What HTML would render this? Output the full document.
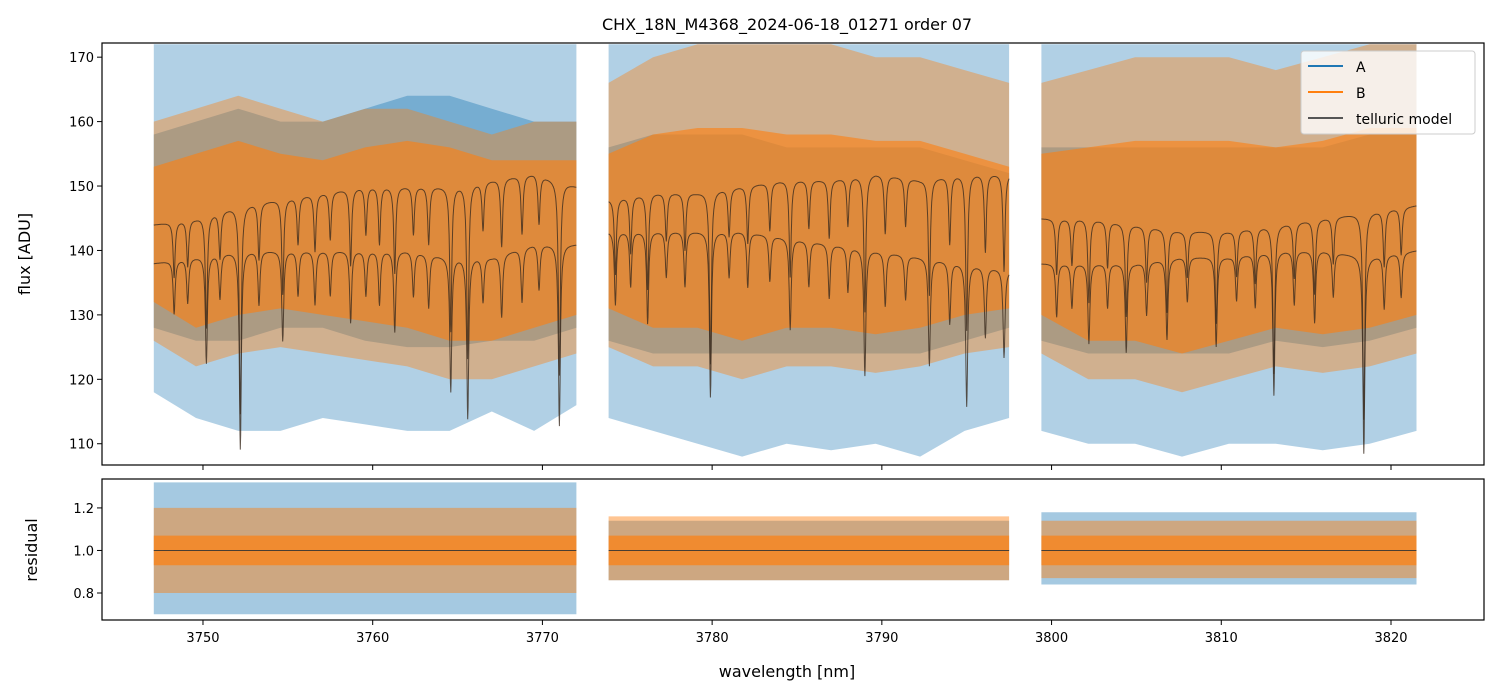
<!DOCTYPE html>
<html><head><meta charset="utf-8">
<style>
html,body{margin:0;padding:0;background:#fff;}
svg{display:block;font-family:"DejaVu Sans","Liberation Sans",sans-serif;}
</style></head>
<body>
<svg id="chart" width="1499" height="696" viewBox="0 0 1499 696">
<rect width="1499" height="696" fill="#fff"/>
<text x="787" y="30" font-size="16" text-anchor="middle">CHX_18N_M4368_2024-06-18_01271  order 07</text>
<defs>
<clipPath id="ctop"><rect x="102" y="43" width="1382" height="422"/></clipPath>
<clipPath id="cbot"><rect x="102" y="479" width="1382" height="141"/></clipPath>
</defs>
<g id="gtop" clip-path="url(#ctop)"></g>
<g id="gbot" clip-path="url(#cbot)"></g>
<g id="axes"></g>
<g>
<rect x="1301" y="51" width="174" height="83" rx="3" fill="#fff" fill-opacity="0.8" stroke="#ccc"/>
<line x1="1308" y1="66" x2="1343" y2="66" stroke="#1f77b4" stroke-width="2"/>
<text x="1356" y="72" font-size="14">A</text>
<line x1="1308" y1="92" x2="1343" y2="92" stroke="#ff7f0e" stroke-width="2"/>
<text x="1356" y="98" font-size="14">B</text>
<line x1="1308" y1="118" x2="1343" y2="118" stroke="#555" stroke-width="2"/>
<text x="1356" y="124" font-size="14">telluric model</text>
</g>
<text x="787" y="677" font-size="16" text-anchor="middle">wavelength [nm]</text>
<text transform="translate(30,254) rotate(-90)" font-size="16" text-anchor="middle">flux [ADU]</text>
<text transform="translate(37,550) rotate(-90)" font-size="16" text-anchor="middle">residual</text>
</svg>
<script>
const segStart = [3747.1, 3773.9, 3799.4];
const segEnd   = [3772.0, 3797.5, 3821.5];
const aHi = [[172,172,172,172,172,172,172,172,172,172,172],[172,172,172,172,172,172,172,172,172,172],[172,172,172,172,172,172,172,172,172]];
const aLo = [[118,114,112,112,114,113,112,112,115,112,116],[114,112,110,108,110,109,110,108,112,114],[112,110,110,108,110,110,109,110,112]];
const bHi = [[160,162,164,162,160,162,162,160,158,160,160],[166,170,172,172,172,172,170,170,168,166],[166,168,170,170,170,168,170,172,172]];
const bLo = [[126,122,124,125,124,123,122,120,120,122,124],[125,122,122,120,122,122,121,122,124,125],[124,120,120,118,120,122,121,122,124]];
const aCoreHi = [[158,160,162,160,160,162,164,164,162,160,160],[156,158,158,158,156,156,156,156,154,152],[156,156,156,156,156,156,156,158,158]];
const aCoreLo = [[128,126,126,128,128,126,125,125,126,126,128],[126,124,124,124,124,124,124,124,126,128],[126,124,124,124,124,126,125,126,128]];
const telUp = [[144,145,147,148,149,150,150,150,151,152,150],[148,149,149,150,151,151,152,151,152,152],[145,145,144,143,143,144,145,146,147]];
const telLo = [[138,139,140,140,140,140,140,139,139,141,141],[143,143,143,143,142,141,140,139,138,137],[138,138,138,139,139,140,140,139,140]];
const lineNm = [3748.3,3749.1,3750.2,3751.0,3752.2,3753.3,3754.7,3755.6,3756.6,3757.5,3758.7,3759.6,3760.4,3761.3,3762.4,3763.3,3764.6,3765.6,3766.5,3767.6,3768.8,3769.8,3771.0,
  3774.3,3775.2,3776.2,3777.3,3778.4,3779.9,3781.0,3782.1,3783.4,3784.6,3785.7,3786.9,3788.0,3789.0,3790.2,3791.4,3792.8,3794.0,3795.0,3796.1,3797.2,
  3800.3,3801.2,3802.2,3803.3,3804.4,3805.6,3806.8,3808.0,3809.7,3810.9,3812.0,3813.1,3814.3,3815.5,3816.6,3818.4,3819.6,3820.6];
const lineDepth = [0.06,0.05,0.12,0.05,0.22,0.06,0.10,0.05,0.06,0.05,0.08,0.05,0.06,0.09,0.05,0.06,0.15,0.18,0.05,0.07,0.06,0.05,0.20,
  0.08,0.06,0.10,0.05,0.06,0.18,0.05,0.06,0.05,0.10,0.05,0.06,0.05,0.14,0.06,0.05,0.12,0.07,0.16,0.08,0.10,
  0.06,0.05,0.09,0.05,0.10,0.06,0.09,0.05,0.10,0.05,0.06,0.16,0.06,0.08,0.05,0.22,0.06,0.05];
const rAHi=[1.32,1.14,1.18], rALo=[0.70,0.86,0.84];
const rBHi=[1.20,1.16,1.14], rBLo=[0.80,0.86,0.87];
const xTicks=[3750,3760,3770,3780,3790,3800,3810,3820];
const yTicksTop=[110,120,130,140,150,160,170];
const yTicksBot=[0.8,1.0,1.2];

const NS='http://www.w3.org/2000/svg';
const X=w=>102+(w-3744.05)*(1382/(3825.48-3744.05));
const YT=v=>465-(v-106.7)*(422/(172.2-106.7));
const YB=v=>620-(v-0.673)*(141/(1.336-0.673));
function mk(tag,attrs,parent){const e=document.createElementNS(NS,tag);for(const k in attrs)e.setAttribute(k,attrs[k]);parent.appendChild(e);return e;}
const gTop=document.getElementById('gtop'),gBot=document.getElementById('gbot'),axes=document.getElementById('axes');
function band(parent,s,hi,lo,Y,fill,op){
  const n=hi.length,pts=[];
  for(let i=0;i<n;i++){const w=segStart[s]+(segEnd[s]-segStart[s])*i/(n-1);pts.push(X(w).toFixed(1)+','+Y(hi[i]).toFixed(1));}
  for(let i=n-1;i>=0;i--){const w=segStart[s]+(segEnd[s]-segStart[s])*i/(n-1);pts.push(X(w).toFixed(1)+','+Y(lo[i]).toFixed(1));}
  return mk('polygon',{points:pts.join(' '),fill:fill,'fill-opacity':op},parent);
}
function interp(arr,s,w){const n=arr.length;const t=(w-segStart[s])/(segEnd[s]-segStart[s])*(n-1);const i=Math.max(0,Math.min(n-2,Math.floor(t)));const f=t-i;return arr[i]*(1-f)+arr[i+1]*f;}
for(let s=0;s<3;s++){
  let e=band(gTop,s,aHi[s],aLo[s],YT,'#1f77b4',0.35);
  
  
  e=band(gTop,s,aCoreHi[s],aCoreLo[s],YT,'#1f77b4',0.4);
  
  
  e=band(gTop,s,bHi[s],bLo[s],YT,'#ff7f0e',0.4);
  
  
  e=band(gTop,s,bHi[s].map((v,i)=>(v+aCoreHi[s][i])/2-6),bLo[s].map((v,i)=>v+6),YT,'#ff7f0e',0.6);
  
  
  for(const base of [telUp,telLo]){
    const pts=[];
    for(let w=segStart[s];w<=segEnd[s];w+=0.02){
      let f=1;for(let k=0;k<lineNm.length;k++){const d=(w-lineNm[k])/0.07;f-=lineDepth[k]/(1+d*d);}
      pts.push(X(w).toFixed(1)+','+YT(interp(base[s],s,w)*f).toFixed(1));
    }
    e=mk('polyline',{points:pts.join(' '),fill:'none',stroke:'#3a2a1e','stroke-width':1,'stroke-opacity':0.8},gTop);
    
    
  }
  e=band(gBot,s,[rAHi[s],rAHi[s]],[rALo[s],rALo[s]],YB,'#1f77b4',0.4);
  
  
  e=band(gBot,s,[rBHi[s],rBHi[s]],[rBLo[s],rBLo[s]],YB,'#ff7f0e',0.45);
  
  
  e=band(gBot,s,[1.07,1.07],[0.93,0.93],YB,'#ff7f0e',0.7);
  
  
  e=mk('line',{x1:X(segStart[s]),x2:X(segEnd[s]),y1:YB(1),y2:YB(1),stroke:'#333','stroke-width':0.8},gBot);
  
  
}
let f=mk('rect',{x:102,y:43,width:1382,height:422,fill:'none',stroke:'#000','stroke-width':1.2},axes);


f=mk('rect',{x:102,y:479,width:1382,height:141,fill:'none',stroke:'#000','stroke-width':1.2},axes);


for(const t of xTicks){
  const x=X(t);
  mk('line',{x1:x,x2:x,y1:465,y2:470,stroke:'#000'},axes);
  mk('line',{x1:x,x2:x,y1:620,y2:625,stroke:'#000'},axes);
  const tx=mk('text',{x:x,y:642,'font-size':13,'text-anchor':'middle'},axes);tx.textContent=t;
  
  
}
for(const t of yTicksTop){
  const y=YT(t);
  mk('line',{x1:97,x2:102,y1:y,y2:y,stroke:'#000'},axes);
  const tx=mk('text',{x:94,y:y+5,'font-size':13,'text-anchor':'end'},axes);tx.textContent=t;
  
  
}
for(const t of yTicksBot){
  const y=YB(t);
  mk('line',{x1:97,x2:102,y1:y,y2:y,stroke:'#000'},axes);
  const tx=mk('text',{x:94,y:y+5,'font-size':13,'text-anchor':'end'},axes);tx.textContent=t.toFixed(1);
  
  
}
</script>
</body></html>
